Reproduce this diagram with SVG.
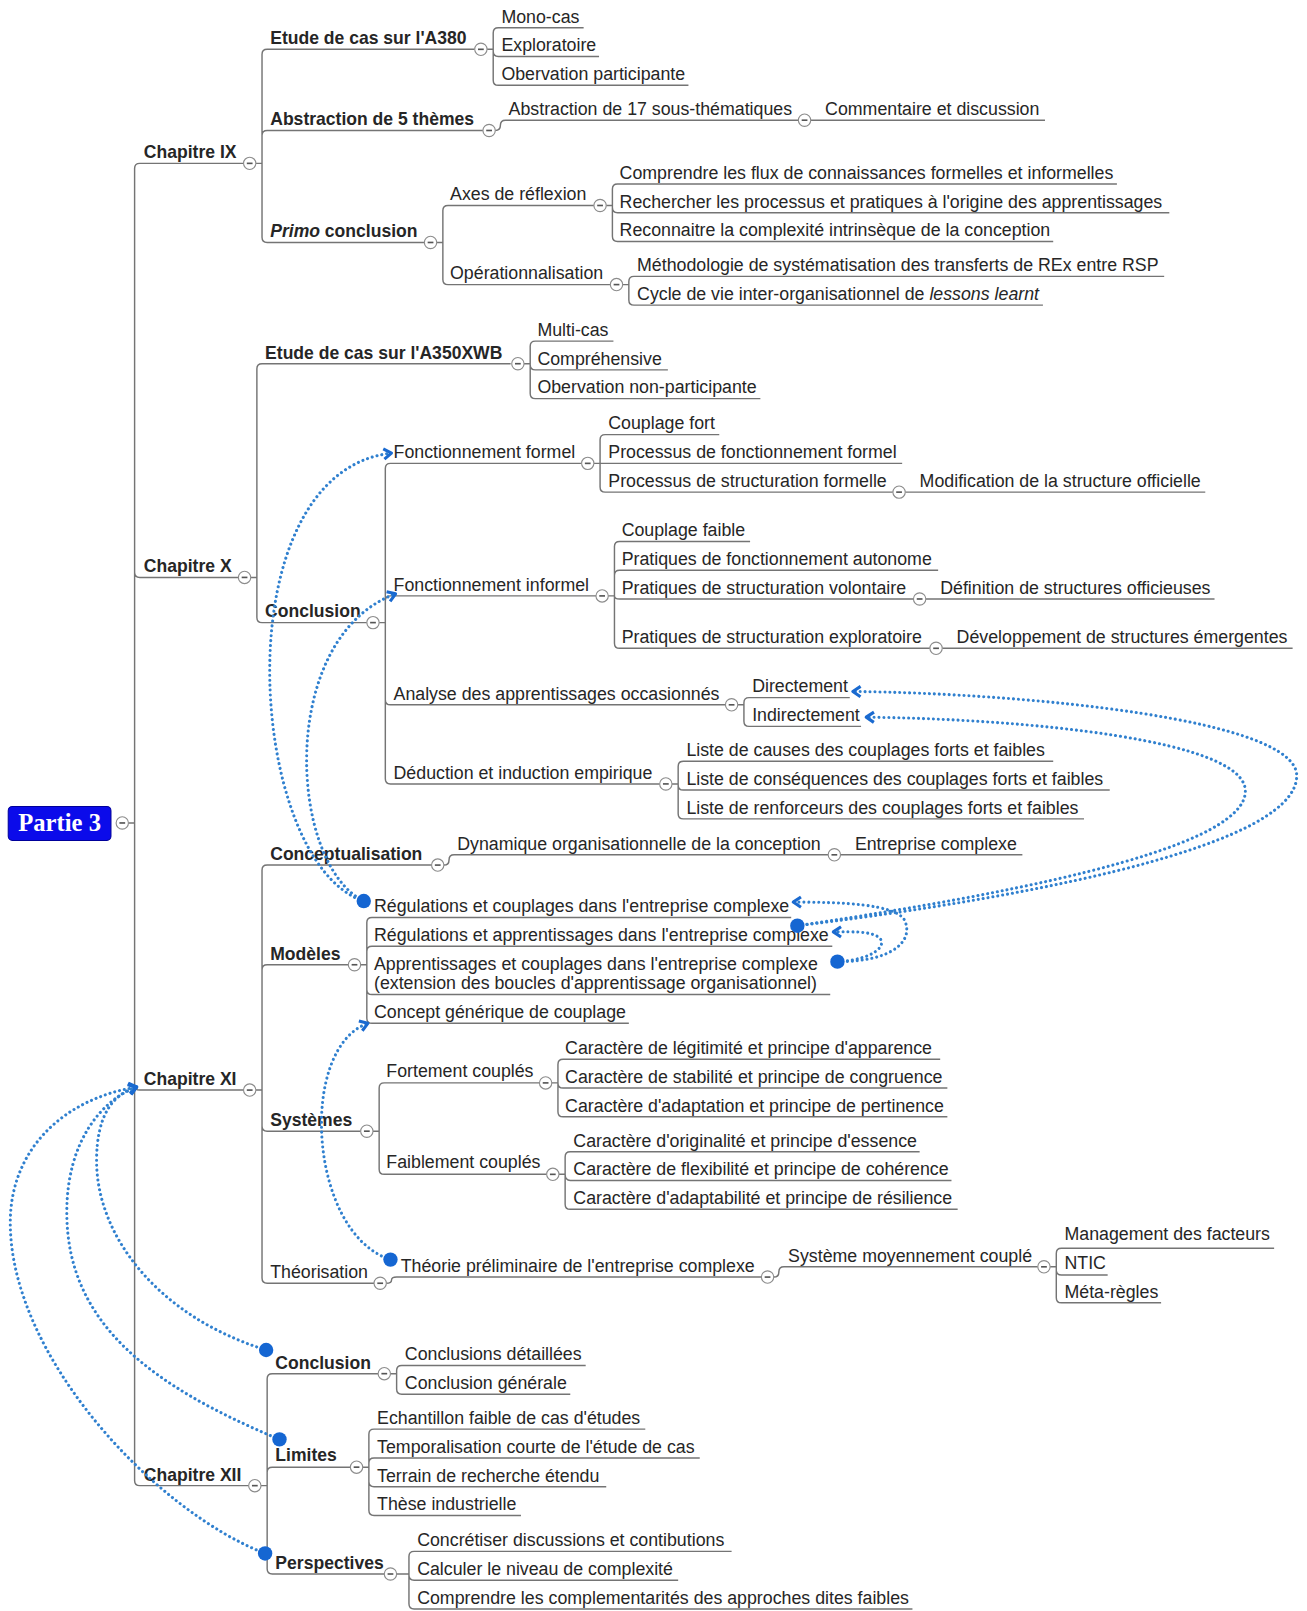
<svg xmlns="http://www.w3.org/2000/svg" xmlns:xlink="http://www.w3.org/1999/xlink" width="1307" height="1611" viewBox="0 0 1307 1611">
<style>
.ln{fill:none;stroke:#747474;stroke-width:1.4}
.t{font-family:"Liberation Sans",Arial,sans-serif;font-size:17.3px;fill:#262626}
.b{font-weight:bold;font-size:17.1px}
.rel{fill:none;stroke:#3080cf;stroke-width:3;stroke-dasharray:0.01 4.8;stroke-linecap:round}
.dot{fill:#1566d2}
.root-t{font-family:"Liberation Serif","Times New Roman",serif;font-size:24px;font-weight:bold;fill:#ffffff}
</style>
<defs>
<g id="col"><circle r="6" fill="#ffffff" stroke="#8c8c8c" stroke-width="1.1"/><line x1="-2.8" y1="0" x2="2.8" y2="0" stroke="#555" stroke-width="1.6"/></g>
<marker id="arr" viewBox="0 0 14 14" refX="10" refY="7" markerWidth="14" markerHeight="14" markerUnits="userSpaceOnUse" orient="auto"><path d="M2.5,2 L10,7 L2.5,12" fill="none" stroke="#1a6ad0" stroke-width="3" stroke-dasharray="none" stroke-linejoin="round"/></marker>
</defs>
<rect width="1307" height="1611" fill="#ffffff"/>
<g transform="scale(1.02752,1.02742)">
<g id="connectors" class="ln">
<path d="M125,801 H131 M131,801 V164 Q131,159 136,159 H237 M131,801 V557 Q131,562 136,562 H232 M131,801 V1056 Q131,1061 136,1061 H237 M131,801 V1441 Q131,1446 136,1446 H242"/>
<path d="M249,159 H255 M255,159 V53 Q255,48 260,48 H462 M255,159 V132 Q255,127 260,127 H470 M255,159 V231 Q255,236 260,236 H413"/>
<path d="M474,48 H480 M480,48 V32 Q480,27 485,27 H568 M480,48 V50 Q480,55 485,55 H583 M480,48 V78 Q480,83 485,83 H670"/>
<path d="M482,127 Q487,127 487,122 Q487,117 492,117 H777 M789,117 H1017"/>
<path d="M425,236 H431 M431,236 V205 Q431,200 436,200 H578 M431,236 V272 Q431,277 436,277 H594"/>
<path d="M590,200 H596 M596,200 V184 Q596,179 601,179 H1087 M596,200 V202 Q596,207 601,207 H1138 M596,200 V230 Q596,235 601,235 H1025"/>
<path d="M606,277 H612 M612,277 V274 Q612,269 617,269 H1133 M612,277 V292 Q612,297 617,297 H1015"/>
<path d="M244,562 H250 M250,562 V359 Q250,354 255,354 H497 M250,562 V601 Q250,606 255,606 H357"/>
<path d="M510,354 H516 M516,354 V337 Q516,332 521,332 H597 M516,354 V355 Q516,360 521,360 H650 M516,354 V383 Q516,388 521,388 H740"/>
<path d="M369,606 H375 M375,606 V456 Q375,451 380,451 H566 M375,606 V585 Q375,580 380,580 H580 M375,606 V681 Q375,686 380,686 H706 M375,606 V758 Q375,763 380,763 H642"/>
<path d="M578,451 H584 M584,451 V428 Q584,423 589,423 H700 M584,451 H878 M584,451 V474 Q584,479 589,479 H869 M881,479 H1173"/>
<path d="M592,580 H598 M598,580 V532 Q598,527 603,527 H730 M598,580 V560 Q598,555 603,555 H913 M598,580 Q598,583 603,583 H889 M598,580 V626 Q598,631 603,631 H905 M901,583 H1182 M917,631 H1258"/>
<path d="M718,686 H724 M724,686 V684 Q724,679 729,679 H827 M724,686 V702 Q724,707 729,707 H838"/>
<path d="M654,763 H660 M660,763 V746 Q660,741 665,741 H1025 M660,763 V764 Q660,769 665,769 H1080 M660,763 V792 Q660,797 665,797 H1055"/>
<path d="M249,1061 H255 M255,1061 V847 Q255,842 260,842 H420 M255,1061 V944 Q255,939 260,939 H339 M255,1061 V1096 Q255,1101 260,1101 H351 M255,1061 V1244 Q255,1249 260,1249 H364"/>
<path d="M432,842 Q437,842 437,837 Q437,832 442,832 H806 M818,832 H995"/>
<path d="M351,939 H357 M357,939 V898 Q357,893 362,893 H770 M357,939 V926 Q357,921 362,921 H810 M357,939 V963 Q357,968 362,968 H808 M357,939 V991 Q357,996 362,996 H612"/>
<path d="M363,1101 H369 M369,1101 V1059 Q369,1054 374,1054 H525 M369,1101 V1138 Q369,1143 374,1143 H532"/>
<path d="M537,1054 H543 M543,1054 V1036 Q543,1031 548,1031 H915 M543,1054 Q543,1059 548,1059 H922 M543,1054 V1082 Q543,1087 548,1087 H922"/>
<path d="M544,1143 H550 M550,1143 V1126 Q550,1121 555,1121 H895 M550,1143 Q550,1149 555,1149 H926 M550,1143 V1172 Q550,1177 555,1177 H932"/>
<path d="M376,1249 Q381,1249 381,1246 Q381,1243 386,1243 H741 M753,1243 Q758,1243 758,1238 Q758,1233 763,1233 H1010"/>
<path d="M1022,1233 H1028 M1028,1233 V1220 Q1028,1215 1033,1215 H1240 M1028,1233 V1236 Q1028,1241 1033,1241 H1078 M1028,1233 V1263 Q1028,1268 1033,1268 H1130"/>
<path d="M254,1446 H260 M260,1446 V1342 Q260,1337 265,1337 H368 M260,1446 V1433 Q260,1428 265,1428 H341 M260,1446 V1527 Q260,1532 265,1532 H374"/>
<path d="M380,1337 H386 M386,1337 V1334 Q386,1329 391,1329 H570 M386,1337 V1352 Q386,1357 391,1357 H555"/>
<path d="M353,1428 H359 M359,1428 V1396 Q359,1391 364,1391 H628 M359,1428 V1424 Q359,1419 364,1419 H681 M359,1428 V1442 Q359,1447 364,1447 H590 M359,1428 V1470 Q359,1475 364,1475 H507"/>
<path d="M386,1532 H398 M398,1532 V1515 Q398,1510 403,1510 H712 M398,1532 V1533 Q398,1538 403,1538 H660 M398,1532 V1561 Q398,1566 403,1566 H888"/>
</g>

<g id="n-root"><rect x="8" y="785" width="100" height="33" rx="4" fill="#0b0bea" stroke="#00009a" stroke-width="1"/><text class="root-t" x="58" y="809" text-anchor="middle">Partie 3</text><use xlink:href="#col" x="119" y="801"/></g>

<g id="n-ch9"><text class="t b" x="140" y="154">Chapitre IX</text><use xlink:href="#col" x="243" y="159"/></g>
<g id="n-a380"><text class="t b" x="263" y="43">Etude de cas sur l'A380</text><use xlink:href="#col" x="468" y="48"/></g>
<g id="n-mono"><text class="t" x="488" y="22">Mono-cas</text></g>
<g id="n-explo"><text class="t" x="488" y="50">Exploratoire</text></g>
<g id="n-obspart"><text class="t" x="488" y="78">Obervation participante</text></g>
<g id="n-abs5"><text class="t b" x="263" y="122">Abstraction de 5 thèmes</text><use xlink:href="#col" x="476" y="127"/></g>
<g id="n-abs17"><text class="t" x="495" y="112">Abstraction de 17 sous-thématiques</text><use xlink:href="#col" x="783" y="117"/></g>
<g id="n-comm"><text class="t" x="803" y="112">Commentaire et discussion</text></g>
<g id="n-primo"><text class="t b" x="263" y="231"><tspan font-style="italic">Primo</tspan> conclusion</text><use xlink:href="#col" x="419" y="236"/></g>
<g id="n-axes"><text class="t" x="438" y="195">Axes de réflexion</text><use xlink:href="#col" x="584" y="200"/></g>
<g id="n-flux"><text class="t" x="603" y="174">Comprendre les flux de connaissances formelles et informelles</text></g>
<g id="n-rech"><text class="t" x="603" y="202">Rechercher les processus et pratiques à l'origine des apprentissages</text></g>
<g id="n-reco"><text class="t" x="603" y="230">Reconnaitre la complexité intrinsèque de la conception</text></g>
<g id="n-oper"><text class="t" x="438" y="272">Opérationnalisation</text><use xlink:href="#col" x="600" y="277"/></g>
<g id="n-metho"><text class="t" x="620" y="264">Méthodologie de systématisation des transferts de REx entre RSP</text></g>
<g id="n-cycle"><text class="t" x="620" y="292">Cycle de vie inter-organisationnel de <tspan font-style="italic">lessons learnt</tspan></text></g>

<g id="n-ch10"><text class="t b" x="140" y="557">Chapitre X</text><use xlink:href="#col" x="238" y="562"/></g>
<g id="n-a350"><text class="t b" x="258" y="349">Etude de cas sur l'A350XWB</text><use xlink:href="#col" x="504" y="354"/></g>
<g id="n-multi"><text class="t" x="523" y="327">Multi-cas</text></g>
<g id="n-compr"><text class="t" x="523" y="355">Compréhensive</text></g>
<g id="n-obsnon"><text class="t" x="523" y="383">Obervation non-participante</text></g>
<g id="n-concl10"><text class="t b" x="258" y="601">Conclusion</text><use xlink:href="#col" x="363" y="606"/></g>
<g id="n-fformel"><text class="t" x="383" y="446">Fonctionnement formel</text><use xlink:href="#col" x="572" y="451"/></g>
<g id="n-cfort"><text class="t" x="592" y="418">Couplage fort</text></g>
<g id="n-pff"><text class="t" x="592" y="446">Processus de fonctionnement formel</text></g>
<g id="n-psf"><text class="t" x="592" y="474">Processus de structuration formelle</text><use xlink:href="#col" x="875" y="479"/></g>
<g id="n-modif"><text class="t" x="895" y="474">Modification de la structure officielle</text></g>
<g id="n-finformel"><text class="t" x="383" y="575">Fonctionnement informel</text><use xlink:href="#col" x="586" y="580"/></g>
<g id="n-cfaible"><text class="t" x="605" y="522">Couplage faible</text></g>
<g id="n-pfa"><text class="t" x="605" y="550">Pratiques de fonctionnement autonome</text></g>
<g id="n-psv"><text class="t" x="605" y="578">Pratiques de structuration volontaire</text><use xlink:href="#col" x="895" y="583"/></g>
<g id="n-defin"><text class="t" x="915" y="578">Définition de structures officieuses</text></g>
<g id="n-pse"><text class="t" x="605" y="626">Pratiques de structuration exploratoire</text><use xlink:href="#col" x="911" y="631"/></g>
<g id="n-devel"><text class="t" x="931" y="626">Développement de structures émergentes</text></g>
<g id="n-analyse"><text class="t" x="383" y="681">Analyse des apprentissages occasionnés</text><use xlink:href="#col" x="712" y="686"/></g>
<g id="n-direct"><text class="t" x="732" y="674">Directement</text></g>
<g id="n-indirect"><text class="t" x="732" y="702">Indirectement</text></g>
<g id="n-deduc"><text class="t" x="383" y="758">Déduction et induction empirique</text><use xlink:href="#col" x="648" y="763"/></g>
<g id="n-causes"><text class="t" x="668" y="736">Liste de causes des couplages forts et faibles</text></g>
<g id="n-conseq"><text class="t" x="668" y="764">Liste de conséquences des couplages forts et faibles</text></g>
<g id="n-renf"><text class="t" x="668" y="792">Liste de renforceurs des couplages forts et faibles</text></g>

<g id="n-ch11"><text class="t b" x="140" y="1056">Chapitre XI</text><use xlink:href="#col" x="243" y="1061"/></g>
<g id="n-concept"><text class="t b" x="263" y="837">Conceptualisation</text><use xlink:href="#col" x="426" y="842"/></g>
<g id="n-dyna"><text class="t" x="445" y="827">Dynamique organisationnelle de la conception</text><use xlink:href="#col" x="812" y="832"/></g>
<g id="n-entcomp"><text class="t" x="832" y="827">Entreprise complexe</text></g>
<g id="n-modeles"><text class="t b" x="263" y="934">Modèles</text><use xlink:href="#col" x="345" y="939"/></g>
<g id="n-regcoup"><text class="t" x="364" y="888">Régulations et couplages dans l'entreprise complexe</text></g>
<g id="n-regapp"><text class="t" x="364" y="916">Régulations et apprentissages dans l'entreprise complexe</text></g>
<g id="n-appcoup"><text class="t" x="364" y="944">Apprentissages et couplages dans l'entreprise complexe</text><text class="t" x="364" y="963">(extension des boucles d'apprentissage organisationnel)</text></g>
<g id="n-cgen"><text class="t" x="364" y="991">Concept générique de couplage</text></g>
<g id="n-systemes"><text class="t b" x="263" y="1096">Systèmes</text><use xlink:href="#col" x="357" y="1101"/></g>
<g id="n-fortement"><text class="t" x="376" y="1048">Fortement couplés</text><use xlink:href="#col" x="531" y="1054"/></g>
<g id="n-legit"><text class="t" x="550" y="1026">Caractère de légitimité et principe d'apparence</text></g>
<g id="n-stab"><text class="t" x="550" y="1054">Caractère de stabilité et principe de congruence</text></g>
<g id="n-adapt"><text class="t" x="550" y="1082">Caractère d'adaptation et principe de pertinence</text></g>
<g id="n-faiblement"><text class="t" x="376" y="1137">Faiblement couplés</text><use xlink:href="#col" x="538" y="1143"/></g>
<g id="n-orig"><text class="t" x="558" y="1116">Caractère d'originalité et principe d'essence</text></g>
<g id="n-flex"><text class="t" x="558" y="1144">Caractère de flexibilité et principe de cohérence</text></g>
<g id="n-adaptab"><text class="t" x="558" y="1172">Caractère d'adaptabilité et principe de résilience</text></g>
<g id="n-theoris"><text class="t" x="263" y="1244">Théorisation</text><use xlink:href="#col" x="370" y="1249"/></g>
<g id="n-theorie"><text class="t" x="390" y="1238">Théorie préliminaire de l'entreprise complexe</text><use xlink:href="#col" x="747" y="1243"/></g>
<g id="n-smc"><text class="t" x="767" y="1228">Système moyennement couplé</text><use xlink:href="#col" x="1016" y="1233"/></g>
<g id="n-mgmt"><text class="t" x="1036" y="1207">Management des facteurs</text></g>
<g id="n-ntic"><text class="t" x="1036" y="1235">NTIC</text></g>
<g id="n-meta"><text class="t" x="1036" y="1263">Méta-règles</text></g>

<g id="n-ch12"><text class="t b" x="140" y="1441">Chapitre XII</text><use xlink:href="#col" x="248" y="1446"/></g>
<g id="n-concl12"><text class="t b" x="268" y="1332">Conclusion</text><use xlink:href="#col" x="374" y="1337"/></g>
<g id="n-cdet"><text class="t" x="394" y="1324">Conclusions détaillées</text></g>
<g id="n-cgenl"><text class="t" x="394" y="1352">Conclusion générale</text></g>
<g id="n-limites"><text class="t b" x="268" y="1422">Limites</text><use xlink:href="#col" x="347" y="1428"/></g>
<g id="n-echan"><text class="t" x="367" y="1386">Echantillon faible de cas d'études</text></g>
<g id="n-tempo"><text class="t" x="367" y="1414">Temporalisation courte de l'étude de cas</text></g>
<g id="n-terrain"><text class="t" x="367" y="1442">Terrain de recherche étendu</text></g>
<g id="n-these"><text class="t" x="367" y="1470">Thèse industrielle</text></g>
<g id="n-persp"><text class="t b" x="268" y="1527">Perspectives</text><use xlink:href="#col" x="380" y="1532"/></g>
<g id="n-concr"><text class="t" x="406" y="1505">Concrétiser discussions et contibutions</text></g>
<g id="n-calc"><text class="t" x="406" y="1533">Calculer le niveau de complexité</text></g>
<g id="n-compl"><text class="t" x="406" y="1561">Comprendre les complementarités des approches dites faibles</text></g>

<g id="relations">
<path class="rel" marker-end="url(#arr)" d="M354,877 C240,840 215,460 381,441"/>
<path class="rel" marker-end="url(#arr)" d="M354,877 C280,840 270,620 385,578"/>
<path class="rel" marker-end="url(#arr)" d="M776,901 C950,880 1262,830 1262,755 C1262,700 1000,675 830,673"/>
<path class="rel" marker-end="url(#arr)" d="M776,901 C950,875 1212,830 1212,770 C1212,720 1000,700 843,698"/>
<path class="rel" marker-end="url(#arr)" d="M815,936 C870,936 890,915 880,895 C870,880 820,878 772,878"/>
<path class="rel" marker-end="url(#arr)" d="M815,936 C850,934 865,920 855,912 C845,906 830,907 811,907"/>
<path class="rel" marker-end="url(#arr)" d="M380,1226 C300,1200 290,1020 358,996"/>
<path class="rel" marker-end="url(#arr)" d="M258,1512 C150,1470 10,1320 10,1190 C10,1120 60,1070 133,1058"/>
<path class="rel" marker-end="url(#arr)" d="M272,1401 C150,1350 65,1290 65,1180 C65,1110 100,1070 133,1058"/>
<path class="rel" marker-end="url(#arr)" d="M259,1314 C150,1280 94,1200 94,1130 C94,1085 110,1065 133,1058"/>
<circle class="dot" cx="354" cy="877" r="7"/>
<circle class="dot" cx="776" cy="901" r="7"/>
<circle class="dot" cx="815" cy="936" r="7"/>
<circle class="dot" cx="380" cy="1226" r="7"/>
<circle class="dot" cx="259" cy="1314" r="7"/>
<circle class="dot" cx="272" cy="1401" r="7"/>
<circle class="dot" cx="258" cy="1512" r="7"/>
</g>
</g>
</svg>
